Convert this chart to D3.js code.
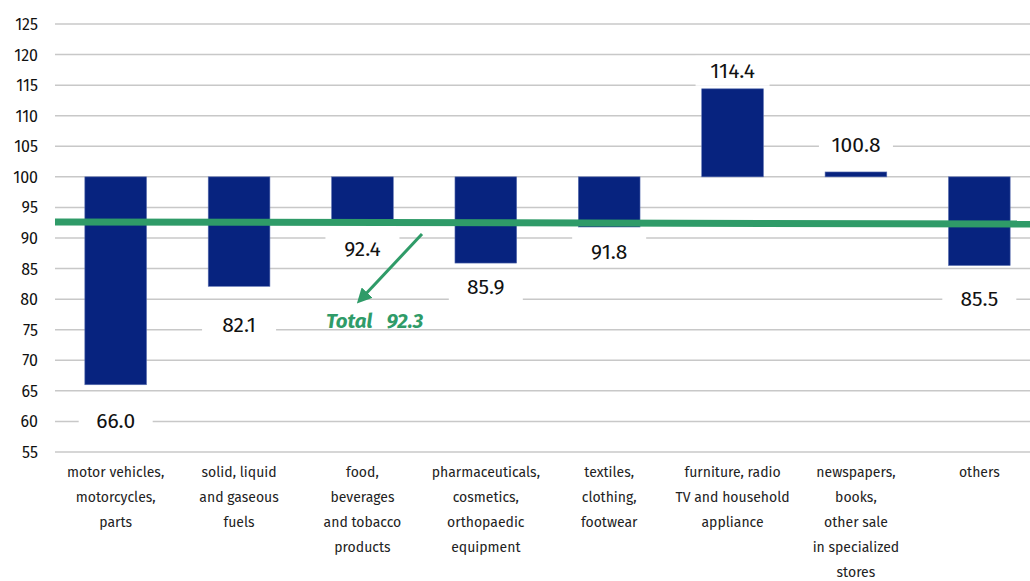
<!DOCTYPE html>
<html>
<head>
<style>
  body { margin: 0; background: #fff; font-family: "Fira Sans", "Noto Sans", sans-serif; }
  .grid line { stroke: #c8c8c8; stroke-width: 1.5; }
  .ytick { font-size: 16px; fill: #111; }
  .cat { font-size: 14px; fill: #222; }
  .val { font-size: 21px; fill: #111; }
</style>
</head>
<body>
<svg id="chart" width="1030" height="581"></svg>
<script src="https://cdn.jsdelivr.net/npm/d3@7"></script>
<script>
const categories = [
  ["motor vehicles,", "motorcycles,", "parts"],
  ["solid, liquid", "and gaseous", "fuels"],
  ["food,", "beverages", "and tobacco", "products"],
  ["pharmaceuticals,", "cosmetics,", "orthopaedic", "equipment"],
  ["textiles,", "clothing,", "footwear"],
  ["furniture, radio", "TV and household", "appliance"],
  ["newspapers,", "books,", "other sale", "in specialized", "stores"],
  ["others"]
];
const values = [66.0, 82.1, 92.4, 85.9, 91.8, 114.4, 100.8, 85.5];
const yTicks = [55, 60, 65, 70, 75, 80, 85, 90, 95, 100, 105, 110, 115, 120, 125];
const baseline = 100;
const total = 92.3;
// label nudges (px) away from bar end, as placed in the original
const labelGap = [36, 39, 26, 24, 25, 18, 27, 33];

const svg = d3.select("#chart");
const x = d3.scaleBand().domain(d3.range(categories.length)).range([54, 1041]).paddingInner(0.5).paddingOuter(0.25);
const y = d3.scaleLinear().domain([55, 125]).range([452, 24]);

// grid
svg.append("g").attr("class", "grid")
  .selectAll("line").data(yTicks).join("line")
  .attr("x1", 55).attr("x2", 1030)
  .attr("y1", d => y(d)).attr("y2", d => y(d));

svg.append("g").selectAll("text").data(yTicks).join("text")
  .attr("class", "ytick")
  .attr("x", 38).attr("y", d => y(d) + 6)
  .attr("text-anchor", "end")
  .text(d => d);

// bars
svg.append("g").selectAll("rect").data(values).join("rect")
  .attr("x", (d, i) => x(i))
  .attr("width", x.bandwidth())
  .attr("y", d => y(Math.max(d, baseline)))
  .attr("height", d => Math.abs(y(d) - y(baseline)))
  .attr("fill", "#07237f")
  .attr("stroke", "#5a6fb0").attr("stroke-width", 0.6);

// total line
svg.append("line")
  .attr("x1", 55).attr("x2", 1030)
  .attr("y1", y(total) - 2).attr("y2", y(total))
  .attr("stroke", "#2f9b68").attr("stroke-width", 7);

// value labels with white boxes
const lab = svg.append("g").selectAll("g").data(values).join("g")
  .attr("transform", (d, i) => {
    const cx = x(i) + x.bandwidth() / 2;
    const cy = d < baseline ? y(d) + labelGap[i] : y(d) - labelGap[i];
    return `translate(${cx},${cy})`;
  });
lab.append("rect")
  .attr("x", -37).attr("y", -15).attr("width", 74).attr("height", 30)
  .attr("fill", "#fff");
lab.append("text").attr("class", "val")
  .attr("text-anchor", "middle").attr("dy", 7)
  .text(d => d.toFixed(1));

// category labels
const cat = svg.append("g").selectAll("text").data(categories).join("text")
  .attr("class", "cat")
  .attr("text-anchor", "middle")
  .attr("x", (d, i) => x(i) + x.bandwidth() / 2)
  .attr("y", 477);
cat.selectAll("tspan").data(d => d).join("tspan")
  .attr("x", function () { return d3.select(this.parentNode).attr("x"); })
  .attr("dy", (d, i) => i === 0 ? 0 : 25.1)
  .text(d => d);

// arrow + total annotation
svg.append("defs").append("marker")
  .attr("id", "ah").attr("viewBox", "0 0 10 10")
  .attr("refX", 5).attr("refY", 5)
  .attr("markerWidth", 5).attr("markerHeight", 5)
  .attr("orient", "auto")
  .append("path").attr("d", "M0,0 L10,5 L0,10 z").attr("fill", "#2f9b68");
svg.append("line")
  .attr("x1", 422).attr("y1", 234).attr("x2", 362).attr("y2", 298)
  .attr("stroke", "#2f9b68").attr("stroke-width", 3)
  .attr("marker-end", "url(#ah)");
svg.append("text")
  .attr("x", 326).attr("y", 328)
  .attr("font-size", 20.5).attr("font-weight", "bold").attr("font-style", "italic")
  .attr("fill", "#2f9b68")
  .style("white-space", "pre")
  .text("Total   " + total.toFixed(1));
</script>
</body>
</html>
